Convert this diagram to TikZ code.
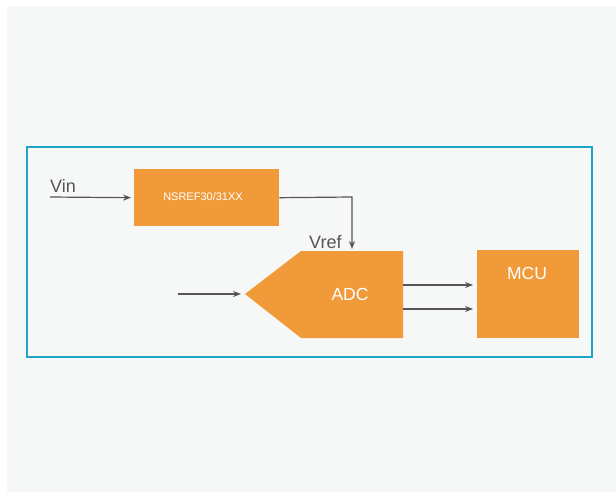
\documentclass[tikz,border=0pt]{standalone}
\usepackage{fontspec}
\setmainfont{Liberation Sans}
\usetikzlibrary{arrows.meta}
\definecolor{bg}{HTML}{F6F8F7}
\definecolor{frame}{HTML}{1AA6C4}
\definecolor{org}{HTML}{F09A3A}
\definecolor{ln}{HTML}{555555}
\tikzset{
  blk/.style={fill=org, draw=none, inner sep=0pt},
  conn/.style={draw=ln, line width=1.2pt, -{Stealth[length=8pt,width=6pt]}},
  lbl/.style={text=ln, font=\fontsize{18}{20}\selectfont, inner sep=0pt},
  wtxt/.style={text=white, inner sep=0pt}
}
\begin{document}
\begin{tikzpicture}[x=1pt,y=-1pt]
\useasboundingbox (0,0) rectangle (616,492);
\fill[white] (0,0) rectangle (616,492);
\fill[bg] (6.5,6) rectangle (616,492);
\draw[frame, line width=2pt] (27,147) rectangle (592,357);
% NSREF block
\node[blk, minimum width=145pt, minimum height=57pt, anchor=north west] (ref) at (134,169) {};
\node[wtxt, font=\fontsize{11}{13}\selectfont] at (203,197) {NSREF30/31XX};
% ADC
\fill[org] (245,294) -- (301,251) -- (403,251) -- (403,338) -- (301,338) -- cycle;
\node[blk, minimum width=102pt, minimum height=87pt, anchor=north west] (adc) at (301,251) {};
\coordinate (adcin) at (241,294);
\node[wtxt, font=\fontsize{17.5}{20}\selectfont] at (350,294) {ADC};
% MCU
\node[blk, minimum width=102pt, minimum height=88pt, anchor=north west] (mcu) at (477,250) {};
\node[wtxt, font=\fontsize{17.5}{20}\selectfont] at (527,273) {MCU};
% labels
\node[lbl, anchor=base west] (vin) at (50,192.5) {Vin};
\node[lbl, anchor=base west] (vref) at (309,248) {Vref};
% connectors
\coordinate (vinstart) at (50,197);
\draw[conn] (vinstart) -- (ref.west -| 131,0);
\coordinate (refout) at (ref.east);
\coordinate (bend) at (352,197);
\coordinate (vrefend) at (352,249);
\draw[conn] (refout) -- (bend) -- (vrefend);
\coordinate (ainstart) at (178,294);
\draw[conn] (ainstart) -- (adcin);
\coordinate (o1s) at (403,285);
\coordinate (o1e) at (473,285);
\coordinate (o2s) at (403,309);
\coordinate (o2e) at (473,309);
\draw[conn] (o1s) -- (o1e);
\draw[conn] (o2s) -- (o2e);
\end{tikzpicture}
\end{document}
